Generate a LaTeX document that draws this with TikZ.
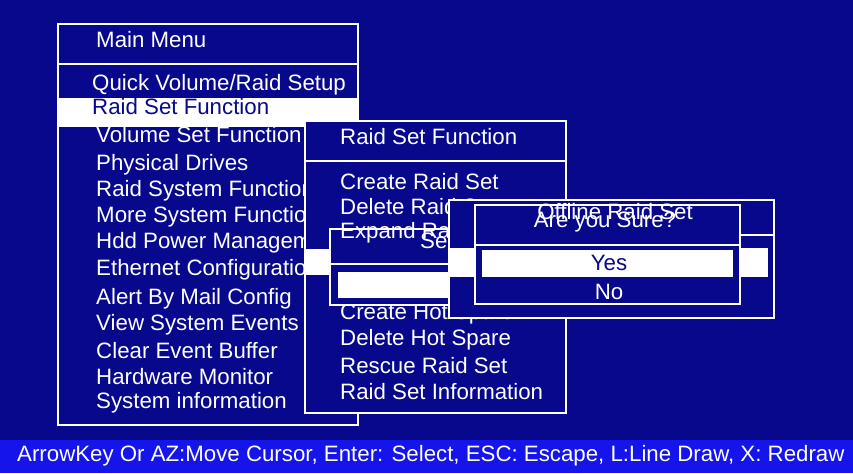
\documentclass[tikz,border=0pt]{standalone}
\usepackage{fontspec}
\setmainfont{Liberation Sans}
\usetikzlibrary{positioning}
\definecolor{bios}{RGB}{8,8,140}
\definecolor{barblue}{RGB}{20,20,235}
\tikzset{
  frame/.style={draw=white, line width=2.4pt, fill=bios},
  bar/.style={fill=white, draw=none},
  item/.style={anchor=west, inner sep=0pt, text=white, font=\fontsize{19}{22}\selectfont},
  sel/.style={item, text=bios}
}
\begin{document}
\begin{tikzpicture}[x=0.03cm, y=-0.03cm]
        \useasboundingbox (0,0) rectangle (853,473);
        \fill[bios] (0,0) rectangle (853,473);
        \fill[barblue] (0,440) rectangle (853,473);

        % Main menu
        \draw[frame] (58,24) rectangle (358,425);
        \draw[white, line width=2.4pt] (58,64) -- (358,64);
        \fill[bar] (58,98) rectangle (358,127);
        \node[item] (MainTitle) at (96,40) {Main Menu};
        \node[item] (Quick) at (92,85) {Quick Volume/Raid Setup};
        \node[sel] (RaidSet) at (92,107) {Raid Set Function};
        \node[item] (VolSet) at (96,135) {Volume Set Function};
        \node[item] (Phys) at (96,165) {Physical Drives};
        \node[item] (SysFun) at (96,191) {Raid System Function};
        \node[item] (More) at (96,217) {More System Functions};
        \node[item] (Hdd) at (96,243) {Hdd Power Management};
        \node[item] (Eth) at (96,270) {Ethernet Configuration};
        \node[item] (Mail) at (96,299) {Alert By Mail Config};
        \node[item] (Events) at (96,325) {View System Events};
        \node[item] (Clear) at (96,351) {Clear Event Buffer};
        \node[item] (HwMon) at (96,377) {Hardware Monitor};
        \node[item] (SysInfo) at (96,403) {System information};

        % Raid set function submenu
        \draw[frame] (305,121) rectangle (566,413);
        \draw[white, line width=2.4pt] (305,161) -- (566,161);
        \node[item] (SubTitle) at (340,137) {Raid Set Function};
        \node[item] (Create) at (340,182) {Create Raid Set};
        \node[item] (Delete) at (340,207) {Delete Raid Set};
        \node[item] (CreateHot) at (340,314) {Create Hot Spare};
        \node[item] (DeleteHot) at (340,340) {Delete Hot Spare};
        \node[item] (Rescue) at (340,366) {Rescue Raid Set};
        \node[item] (Info) at (340,392) {Raid Set Information};

        % Select box
        \draw[frame] (330,229) rectangle (470,305);
        \draw[white, line width=2.4pt] (330,264) -- (470,264);
        \fill[bar] (338,272) rectangle (470,298);
        \fill[bar] (305,249) rectangle (330,275);
        \node[item] (Expand) at (340,233) {Expand Raid Set};
        \node[item] (SelTitle) at (420,241) {Select};

        % Offline dialog
        \draw[frame] (449,200) rectangle (774,318);
        \draw[white, line width=2.4pt] (740,235) -- (774,235);
        \fill[bar] (449,248) rectangle (768,277);
        \draw[frame] (475,205) rectangle (740,304);
        \draw[white, line width=2.4pt] (475,245) -- (740,245);
        \fill[bar] (482,250) rectangle (733,277);
        \node[item, anchor=center] (Offline) at (615,212) {Offline Raid Set};
        \node[item, anchor=center] (Sure) at (605,222) {Are you Sure?};
        \node[sel, anchor=center] (Yes) at (609,263) {Yes};
        \node[item, anchor=center] (No) at (609,292) {No};

        % Status line
        \node[item] (Status) at (17,456) {ArrowKey Or AZ:Move Cursor, Enter: Select, ESC: Escape, L:Line Draw, X: Redraw};
\end{tikzpicture}
\end{document}
